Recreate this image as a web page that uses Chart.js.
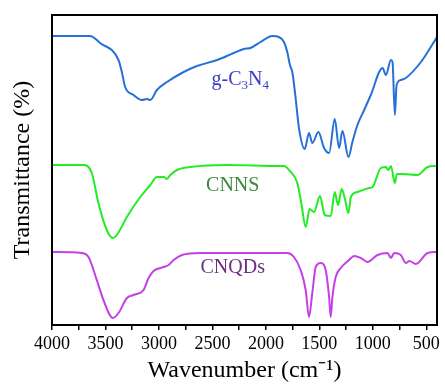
<!DOCTYPE html>
<html lang="en">
  <head>
    <meta charset="UTF-8" />
    <title>FTIR spectra</title>
    <script src="https://cdn.jsdelivr.net/npm/chart.js"></script>
    <style>
      html, body { margin: 0; padding: 0; background: #fff; }
      #wrap { width: 445px; height: 385px; }
    </style>
  </head>
  <body>
    <div id="wrap"><canvas id="ftir" width="445" height="385"></canvas></div>
    <script>
      // spectra (wavenumber in cm-1, offset transmittance, arbitrary units)
      const gcnWave = [4000, 3644, 3550, 3378, 3347, 3316, 3238, 3159, 3112, 3081, 3019, 2925, 2769, 2644, 2456, 2300, 2206, 2144, 2050, 1941, 1878, 1831, 1800, 1775, 1753, 1722, 1691, 1637, 1597, 1566, 1509, 1456, 1409, 1356, 1316, 1284, 1228, 1191, 1144, 1081, 1019, 909, 878, 831, 816, 794, 778, 738, 691, 550, 487, 400];
      const gcnT = [289, 289, 282, 265, 253, 238, 230, 225, 226, 225, 235, 243, 253, 259, 265, 272, 276, 277, 283, 289, 288, 283, 273, 260, 253, 227, 197, 176, 192, 182, 193, 177, 172, 206, 177, 194, 168, 183, 200, 215, 230, 257, 250, 265, 263, 210, 240, 245, 247, 263, 273, 288];

      const cnnsWave = [4000, 3706, 3628, 3566, 3488, 3431, 3394, 3300, 3175, 3081, 3019, 2956, 2925, 2894, 2831, 2706, 2363, 1862, 1831, 1775, 1706, 1669, 1628, 1591, 1550, 1494, 1450, 1394, 1356, 1325, 1291, 1263, 1228, 1206, 1144, 1034, 1003, 925, 878, 856, 831, 794, 775, 722, 581, 487, 400];
      const cnnsT = [160, 160, 152, 122, 95, 87, 90, 108, 128, 140, 148, 148, 146, 150, 155, 158, 160, 159, 159, 154, 142, 122, 98, 116, 113, 129, 110, 109, 133, 120, 136, 127, 112, 128, 133, 137, 138, 157, 158, 155, 159, 142, 151, 151, 150, 158, 159];

      const cnqdWave = [4000, 3722, 3659, 3581, 3519, 3431, 3378, 3300, 3238, 3144, 3097, 3050, 2956, 2909, 2863, 2784, 2613, 2300, 1800, 1738, 1675, 1628, 1597, 1566, 1534, 1488, 1441, 1409, 1394, 1378, 1347, 1300, 1222, 1175, 1113, 1050, 956, 863, 831, 800, 738, 691, 659, 597, 487, 400];
      const cnqdT = [73, 72, 68, 45, 25, 7, 12, 27, 30, 35, 47, 54, 58, 60, 65, 70, 72, 72, 72, 68, 55, 35, 8, 32, 58, 62, 55, 28, 8, 28, 48, 57, 65, 69, 67, 63, 70, 72, 67, 72, 70, 62, 64, 61, 72, 73];

      const xTickLabels = [4000, 3500, 3000, 2500, 2000, 1500, 1000, 500];

      const serif = '"Liberation Serif", "Times New Roman", serif';

      function pts(xs, ys) {
        return xs.map((x, i) => ({ x: x, y: ys[i] }));
      }

      // sample names written inside the plot, with subscript pieces
      const sampleLabels = [
        { parts: [["g-C", 0], ["3", 1], ["N", 0], ["4", 1]], wave: 2240, y: 245, color: "#3b3bc4" },
        { parts: [["CNNS", 0]], wave: 2310, y: 139, color: "#3a8a3a" },
        { parts: [["CNQDs", 0]], wave: 2310, y: 57, color: "#6d2f82" },
      ];

      const labelPlugin = {
        id: "labels",
        afterDatasetsDraw(chart) {
          const c = chart.ctx;
          const xs = chart.scales.x, ys = chart.scales.y;
          c.save();
          c.textBaseline = "middle";
          sampleLabels.forEach((l) => {
            let w = 0;
            l.parts.forEach((p) => {
              c.font = (p[1] ? 13 : 20) + "px " + serif;
              w += c.measureText(p[0]).width;
            });
            let x = xs.getPixelForValue(l.wave) - w / 2;
            const y = ys.getPixelForValue(l.y);
            c.fillStyle = l.color;
            l.parts.forEach((p) => {
              c.font = (p[1] ? 13 : 20) + "px " + serif;
              c.fillText(p[0], x, p[1] ? y + 6 : y);
              x += c.measureText(p[0]).width;
            });
          });
          c.restore();
        },
        afterDraw(chart) {
          const a = chart.chartArea;
          const c = chart.ctx;
          c.save();
          c.strokeStyle = "#000";
          c.lineWidth = 2;
          c.strokeRect(a.left, a.top, a.right - a.left, a.bottom - a.top);
          c.restore();
        },
      };

      const line = (data, color) => ({
        data: data,
        borderColor: color,
        borderWidth: 2,
        pointRadius: 0,
        fill: false,
        cubicInterpolationMode: "monotone",
      });

      new Chart(document.getElementById("ftir").getContext("2d"), {
        type: "line",
        data: {
          datasets: [
            line(pts(gcnWave, gcnT), "rgb(38,112,214)"),
            line(pts(cnnsWave, cnnsT), "rgb(34,236,34)"),
            line(pts(cnqdWave, cnqdT), "rgb(196,64,230)"),
          ],
        },
        options: {
          responsive: false,
          animation: false,
          layout: { padding: { top: 15, right: 8, left: 0, bottom: 0 } },
          plugins: { legend: { display: false }, tooltip: { enabled: false } },
          scales: {
            x: {
              type: "linear",
              reverse: true,
              min: 400,
              max: 4000,
              afterBuildTicks(scale) {
                const t = [];
                for (let v = 4000; v >= 500; v -= 250) t.push({ value: v });
                scale.ticks = t;
              },
              afterFit(scale) {
                scale.height = 60;
              },
              ticks: {
                color: "#000",
                padding: 3,
                maxRotation: 0,
                autoSkip: false,
                font: { family: serif, size: 18 },
                callback: (v) => (xTickLabels.includes(v) ? String(v) : ""),
              },
              grid: {
                drawOnChartArea: false,
                drawTicks: true,
                tickLength: 5,
                color: "#000",
                lineWidth: 1.5,
              },
              border: { color: "#000", width: 2 },
              title: {
                display: true,
                text: "Wavenumber (cm\u207B\u00B9)",
                color: "#000",
                font: { family: serif, size: 24 },
                padding: { top: 2, bottom: 0 },
              },
            },
            y: {
              min: 0,
              max: 310,
              afterFit(scale) {
                scale.width = 52;
              },
              ticks: { display: false },
              grid: { display: false },
              border: { color: "#000", width: 2 },
              title: {
                display: true,
                text: "Transmittance (%)",
                color: "#000",
                font: { family: serif, size: 24 },
                padding: { top: 8, bottom: 0 },
              },
            },
          },
        },
        plugins: [labelPlugin],
      });
    </script>
  </body>
</html>
